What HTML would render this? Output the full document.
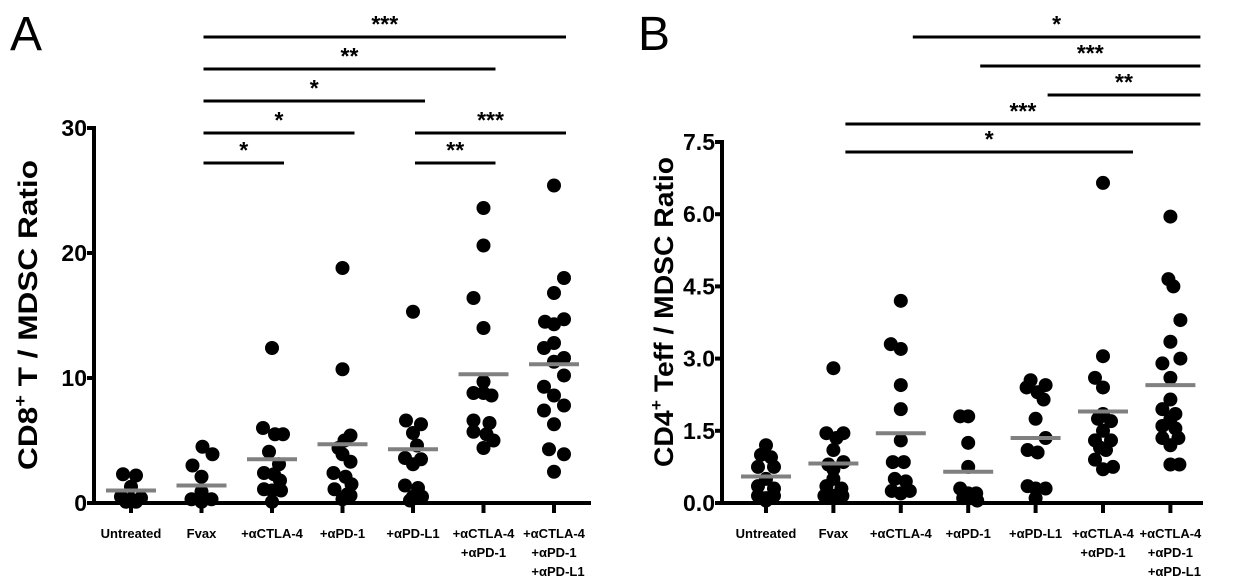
<!DOCTYPE html>
<html><head><meta charset="utf-8"><style>
html,body{margin:0;padding:0;background:#fff;}
svg{display:block;font-family:"Liberation Sans",Arial,sans-serif;}
</style></head><body>
<svg id="fig" width="1247" height="586" viewBox="0 0 1247 586">
<text x="10" y="50" font-size="48">A</text>
<text x="638" y="50" font-size="48">B</text>
<text transform="translate(37,315) rotate(-90)" text-anchor="middle" font-size="27" font-weight="bold" textLength="310" lengthAdjust="spacingAndGlyphs">CD8<tspan dy="-11" font-size="17">+</tspan><tspan dy="11"> T / MDSC Ratio</tspan></text>
<text transform="translate(673,312) rotate(-90)" text-anchor="middle" font-size="27" font-weight="bold" textLength="310" lengthAdjust="spacingAndGlyphs">CD4<tspan dy="-11" font-size="17">+</tspan><tspan dy="11"> Teff / MDSC Ratio</tspan></text>
<g id="gA"></g>
<g id="gB"></g>
</svg>
<script>
const categories = [["Untreated"],["Fvax"],["+αCTLA-4"],["+αPD-1"],["+αPD-L1"],["+αCTLA-4","+αPD-1"],["+αCTLA-4","+αPD-1","+αPD-L1"]];
// [x jitter offset, value]
const seriesA = [
 [[-8,2.3],[5,2.2],[0,1.3],[-10,0.5],[0,0.3],[10,0.4],[-5,0.1],[5,0.1]],
 [[1,4.5],[11,3.9],[-9,3.0],[0,2.1],[0,0.9],[-10,0.3],[0,0.2],[10,0.3],[0,0.1]],
 [[0,12.4],[-9,6.0],[3,5.5],[11,5.5],[-3,4.1],[7,3.1],[-8,2.4],[2,2.3],[8,1.8],[-8,1.1],[0,1.0],[9,1.0],[0,0.1]],
 [[0,18.8],[0,10.7],[8,5.4],[2,5.0],[-4,4.4],[0,3.9],[8,3.3],[-9,2.4],[3,2.1],[9,1.5],[-8,1.1],[5,0.7],[8,0.6],[0,0.3]],
 [[0,15.3],[-7,6.6],[8,6.3],[0,5.6],[4,4.6],[-8,3.6],[8,3.5],[0,3.1],[-8,1.4],[5,1.2],[0,0.5],[9,0.5],[-3,0.2]],
 [[0,23.6],[0,20.6],[-10,16.4],[0,14.0],[0,9.7],[-10,8.8],[0,8.8],[8,8.6],[-10,6.6],[6,6.4],[-10,5.7],[3,5.5],[10,5.0],[0,4.4]],
 [[0,25.4],[10,18.0],[0,16.8],[-9,14.5],[0,14.3],[10,14.7],[0,12.8],[-10,12.4],[10,11.6],[0,11.3],[10,10.2],[-10,9.3],[0,8.6],[10,7.8],[-10,7.4],[0,6.3],[-5,4.3],[10,3.9],[0,2.5]]
];
const meansA = [1.0,1.4,3.5,4.7,4.3,10.3,11.1];
const ticksA = [0,10,20,30];
const sigA = [[1,6,"***",0],[1,5,"**",1],[1,4,"*",2],[1,3,"*",3],[1,2,"*",4],[4,6,"***",3],[4,5,"**",4]];

const seriesB = [
 [[0,1.2],[-5,1.0],[5,0.95],[-8,0.75],[8,0.75],[0,0.5],[-8,0.35],[8,0.3],[-8,0.15],[0,0.1],[8,0.15],[0,0.05]],
 [[0,2.8],[-7,1.45],[10,1.45],[3,1.35],[0,1.1],[10,0.85],[-5,0.8],[0,0.7],[0,0.5],[-7,0.35],[8,0.3],[-9,0.15],[0,0.15],[9,0.15]],
 [[0,4.2],[-10,3.3],[0,3.2],[0,2.45],[0,1.95],[0,1.3],[-8,0.85],[3,0.85],[-6,0.5],[5,0.45],[-9,0.25],[0,0.2],[9,0.25]],
 [[-8,1.8],[0,1.8],[0,1.25],[0,0.75],[-8,0.3],[0,0.2],[8,0.2],[-5,0.1],[3,0.1],[9,0.05]],
 [[-5,2.55],[-9,2.4],[10,2.45],[2,2.3],[8,2.15],[0,1.75],[10,1.35],[-8,1.1],[2,1.05],[-8,0.35],[0,0.3],[10,0.3],[0,0.1]],
 [[0,6.65],[0,3.05],[-8,2.6],[0,2.4],[0,1.85],[-5,1.75],[8,1.7],[0,1.5],[-8,1.3],[8,1.3],[-3,1.15],[3,1.1],[-8,0.9],[0,0.7],[10,0.75]],
 [[0,5.95],[-2,4.65],[3,4.5],[10,3.8],[0,3.35],[-8,2.9],[10,3.0],[0,2.6],[0,2.15],[-8,1.95],[5,1.85],[0,1.75],[-8,1.6],[5,1.55],[-8,1.35],[0,1.2],[8,1.35],[0,0.8],[9,0.8]]
];
const meansB = [0.55,0.82,1.45,0.65,1.35,1.9,2.45];
const ticksB = ["0.0","1.5","3.0","4.5","6.0","7.5"];
const sigB = [[2,6,"*",0],[3,6,"***",1],[4,6,"**",2],[1,6,"***",3],[1,5,"*",4]];

const NS="http://www.w3.org/2000/svg";
function mk(parent,tag,attrs){const e=document.createElementNS(NS,tag);for(const k in attrs)e.setAttribute(k,attrs[k]);parent.appendChild(e);return e;}

function panel(g,cfg){
  const yS=v=>cfg.y0-(v-cfg.min)/(cfg.max-cfg.min)*(cfg.y0-cfg.yTop);
  const xS=i=>cfg.x0c+i*cfg.dx;
  let e=mk(g,'line',{x1:cfg.axX,y1:yS(cfg.max)-2,x2:cfg.axX,y2:cfg.y0+2,stroke:'#000','stroke-width':4});
  
  
  e=mk(g,'line',{x1:cfg.axX-2,y1:cfg.y0,x2:cfg.axEnd,y2:cfg.y0,stroke:'#000','stroke-width':4});
  
  
  cfg.ticks.forEach(t=>{
    const v=parseFloat(t),y=yS(v);
    mk(g,'line',{x1:cfg.axX-7,y1:y,x2:cfg.axX,y2:y,stroke:'#000','stroke-width':4});
    const tx=mk(g,'text',{x:cfg.axX-7,y:y+8,'text-anchor':'end','font-size':23,'font-weight':'bold'});
    tx.textContent=t;
    
    
  });
  categories.forEach((lines,i)=>{
    const x=xS(i);
    mk(g,'line',{x1:x,y1:cfg.y0,x2:x,y2:cfg.y0+10,stroke:'#000','stroke-width':4});
    lines.forEach((l,j)=>{
      const tx=mk(g,'text',{x:x+(j===2?4:0),y:538+j*19,'text-anchor':'middle','font-size':13,'font-weight':'bold'});
      tx.textContent=l;
      
      
    });
  });
  cfg.series.forEach((pts,i)=>{
    pts.forEach(p=>{
      const c=mk(g,'circle',{cx:xS(i)+p[0],cy:yS(p[1]),r:7,fill:'#000'});
      
      
    });
  });
  cfg.means.forEach((m,i)=>{
    const l=mk(g,'line',{x1:xS(i)-25,y1:yS(m),x2:xS(i)+25,y2:yS(m),stroke:'#808080','stroke-width':4});
    
    
  });
  cfg.sig.forEach(s=>{
    const y=cfg.sigY[s[3]];
    const x1=xS(s[0])+cfg.sigOff, x2=xS(s[1])+cfg.sigOff2;
    const l=mk(g,'line',{x1:x1,y1:y,x2:x2,y2:y,stroke:'#000','stroke-width':3});
    
    
    const t=mk(g,'text',{x:(x1+x2)/2,y:y-5,'text-anchor':'middle','font-size':23,'font-weight':'bold'});
    t.textContent=s[2];
    
    
  });
}
panel(document.getElementById('gA'),{min:0,max:30,y0:503,yTop:128,axX:94,axEnd:591,x0c:131,dx:70.5,ticks:ticksA.map(String),series:seriesA,means:meansA,sig:sigA,sigY:[37,69,101,133,163],sigOff:2,sigOff2:12});
panel(document.getElementById('gB'),{min:0,max:7.5,y0:503,yTop:142,axX:722,axEnd:1203,x0c:766,dx:67.4,ticks:ticksB,series:seriesB,means:meansB,sig:sigB,sigY:[37,66,95,124,152],sigOff:12,sigOff2:30});
</script>
</body></html>
